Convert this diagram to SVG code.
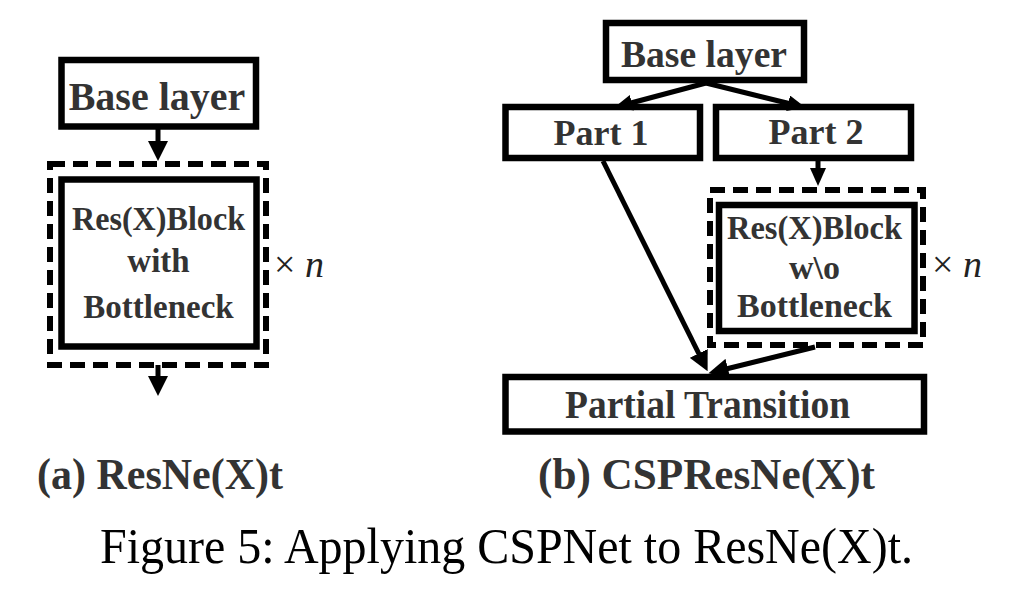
<svg xmlns="http://www.w3.org/2000/svg" width="1011" height="594" viewBox="0 0 1011 594">
<defs>
<marker id="ah" viewBox="0 0 20 20" markerWidth="20" markerHeight="20" markerUnits="userSpaceOnUse" refX="4" refY="10" orient="auto">
<path d="M0,0 L20,10 L0,20 z" fill="#000"/>
</marker>
<marker id="ahs" viewBox="0 0 18 16" markerWidth="18" markerHeight="16" markerUnits="userSpaceOnUse" refX="3" refY="8" orient="auto">
<path d="M0,0 L18,8 L0,16 z" fill="#000"/>
</marker>
</defs>
<style>
.box{fill:#fff;stroke:#000;stroke-width:6.5}
.dash{fill:none;stroke:#000;stroke-width:6;stroke-dasharray:15 8}
.lbl{font-family:"Liberation Serif","Times New Roman",serif;font-weight:bold;fill:#333;text-anchor:middle}
.mul{font-family:"Liberation Serif","Times New Roman",serif;fill:#222;font-size:38px}
.conn line{stroke:#000;stroke-width:5}
.cap{font-family:"Liberation Serif","Times New Roman",serif;font-weight:bold;fill:#333;font-size:45px}
.fig{font-family:"Liberation Serif","Times New Roman",serif;fill:#000;font-size:50px}
</style>
<rect width="1011" height="594" fill="#fff"/>

<!-- (a) ResNe(X)t -->
<g id="a-base">
<rect class="box" x="61.5" y="60" width="194.5" height="66.5"/>
<text class="lbl" x="157" y="110" font-size="40">Base layer</text>
</g>
<g id="a-repeat">
<rect class="dash" x="50" y="164" width="216" height="201"/>
<text class="mul" x="274" y="277">× <tspan font-style="italic">n</tspan></text>
</g>
<g id="a-block">
<rect class="box" x="61.5" y="179.5" width="195" height="167"/>
<text class="lbl" x="158.5" y="230" font-size="33" textLength="173" lengthAdjust="spacingAndGlyphs">Res(X)Block</text>
<text class="lbl" x="158.5" y="272" font-size="33">with</text>
<text class="lbl" x="158.5" y="318" font-size="33">Bottleneck</text>
</g>

<!-- (b) CSPResNe(X)t -->
<g id="b-base">
<rect class="box" x="606" y="23" width="198" height="57"/>
<text class="lbl" x="704" y="67" font-size="37" textLength="166" lengthAdjust="spacingAndGlyphs">Base layer</text>
</g>
<g id="b-part1">
<rect class="box" x="505.5" y="107" width="194.5" height="51"/>
<text class="lbl" x="601" y="145" font-size="36">Part 1</text>
</g>
<g id="b-part2">
<rect class="box" x="716" y="107" width="195" height="51"/>
<text class="lbl" x="816" y="144" font-size="36">Part 2</text>
</g>
<g id="b-repeat">
<rect class="dash" x="710" y="190" width="213" height="155"/>
<text class="mul" x="932" y="277">× <tspan font-style="italic">n</tspan></text>
</g>
<g id="b-block">
<rect class="box" x="719" y="205" width="195.5" height="126"/>
<text class="lbl" x="814.5" y="239" font-size="34" textLength="175" lengthAdjust="spacingAndGlyphs">Res(X)Block</text>
<text class="lbl" x="814.5" y="279" font-size="34">w\o</text>
<text class="lbl" x="814.5" y="317" font-size="34">Bottleneck</text>
</g>
<g id="b-transition">
<rect class="box" x="505.5" y="377" width="418.5" height="54.5"/>
<text class="lbl" x="707.5" y="418" font-size="39" textLength="285" lengthAdjust="spacingAndGlyphs">Partial Transition</text>
</g>

<g id="connectors" class="conn">
<line x1="158" y1="126" x2="158" y2="145" marker-end="url(#ah)"/>
<line x1="158" y1="365" x2="158" y2="380" marker-end="url(#ah)"/>
<line x1="706" y1="83" x2="629" y2="103.5" marker-end="url(#ahs)"/>
<line x1="706" y1="83" x2="791" y2="104" marker-end="url(#ahs)"/>
<line x1="818" y1="160" x2="818" y2="171" marker-end="url(#ahs)"/>
<line x1="603" y1="161" x2="700.5" y2="357" marker-end="url(#ah)"/>
<line x1="815" y1="347" x2="724" y2="369.5" marker-end="url(#ah)"/>
</g>

<g id="captions">
<text class="cap" x="37" y="489" textLength="246" lengthAdjust="spacingAndGlyphs">(a) ResNe(X)t</text>
<text class="cap" x="538" y="489" textLength="337" lengthAdjust="spacingAndGlyphs">(b) CSPResNe(X)t</text>
<text class="fig" x="100" y="563" textLength="813" lengthAdjust="spacingAndGlyphs">Figure 5: Applying CSPNet to ResNe(X)t.</text>
</g>
</svg>
